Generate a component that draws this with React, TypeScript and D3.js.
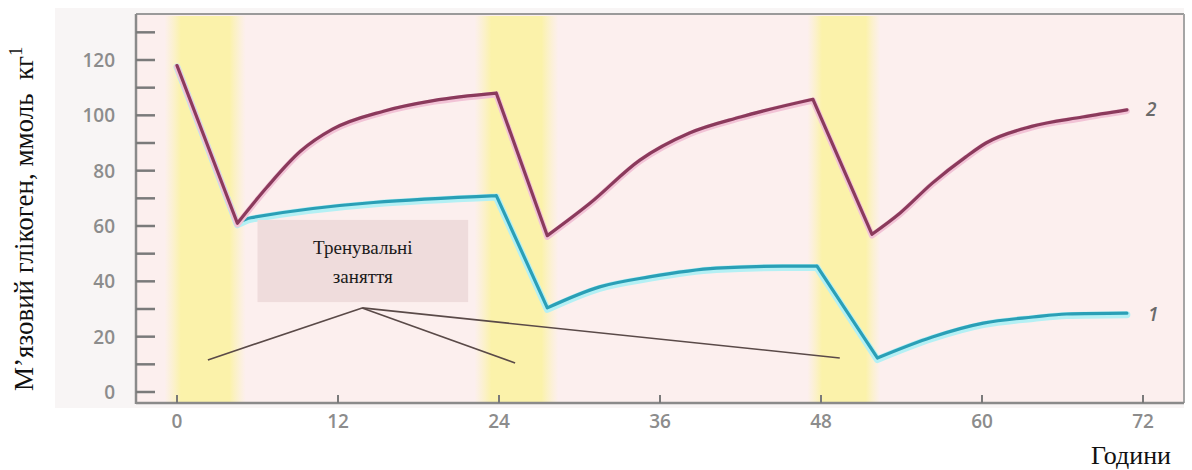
import React from "react";
import * as d3 from "d3";

// ---- data (hours, muscle glycogen mmol/kg) ----
const hours1 = [0, 4.5, 5.5, 23.8, 27.6, 31.5, 35.2, 40.2, 45.2, 47.7, 52.2, 56.3, 60.1, 63.8, 66.3, 70.8];
const glycogen1 = [118, 61, 63, 71, 30.4, 38, 41.6, 44.8, 45.5, 45.5, 12.3, 19.9, 24.9, 27.1, 28.2, 28.5];
const hours2 = [0, 4.5, 6.7, 9.2, 11.6, 15.4, 19.1, 23.8, 27.6, 30.8, 34.5, 38.2, 42, 47.4, 51.8, 53.9, 56.3, 58.8, 60.3, 63.7, 67.5, 70.8];
const glycogen2 = [118, 61, 74, 87, 95, 101.5, 105.3, 108, 56.5, 68.3, 83.8, 93.6, 99.4, 105.8, 57, 64.7, 75.5, 85, 90, 96, 99.4, 102];
const seriesNames = ["1", "2"];
const sessionStart = [-0.4, 22.7, 47.5];
const sessionEnd = [4.6, 27.9, 51.9];
const yTicks = [0, 20, 40, 60, 80, 100, 120];
const yMinorTicks = [0, 10, 20, 30, 40, 50, 60, 70, 80, 90, 100, 110, 120, 130];
const xTicks = [0, 12, 24, 36, 48, 60, 72];
const calloutLines = ["Тренувальні", "заняття"];
const calloutApex = [13.8, 30.4];
const calloutEnds = [[2.3, 11.6], [25.2, 10.5], [49.4, 12.3]];
const calloutBox = [6.0, 21.7, 62.2, 32.5]; // h0, h1, v0, v1
const yLabel = "М’язовий глікоген, ммоль  кг";
const yLabelSup = "1";
const xLabel = "Години";

const W = 1192;
const H = 470;
const x = d3.scaleLinear().domain([0, 72]).range([177, 1143]);
const y = d3.scaleLinear().domain([0, 120]).range([392, 60]);

const frame = { left: 136, right: 1184, top: 14, bottom: 403 };

function piecewisePath(h: number[], v: number[]): string {
  const pts: [number, number][] = h.map((d, i) => [x(d), y(v[i])]);
  const runs: [number, number][][] = [];
  let run: [number, number][] = [pts[0]];
  let dir = 0;
  for (let i = 1; i < pts.length; i++) {
    let s = Math.sign(v[i] - v[i - 1]);
    if (s === 0) s = dir;
    if (dir !== 0 && s !== dir) {
      runs.push(run);
      run = [pts[i - 1]];
    }
    run.push(pts[i]);
    dir = s;
  }
  runs.push(run);
  const line = d3.line().curve(d3.curveMonotoneX);
  return runs.map((r) => line(r) as string).join("");
}

export default function App() {
  const path1 = piecewisePath(hours1, glycogen1);
  const path2 = piecewisePath(hours2, glycogen2);
  const tickFont = "'Open Sans', 'DejaVu Sans', sans-serif";
  const serif = "'Liberation Serif', 'DejaVu Serif', serif";
  return (
    <svg
      width={W}
      height={H}
      style={{ position: "absolute", left: 0, top: 0, background: "#ffffff" }}
    >
      <defs>
        <linearGradient id="band" x1="0" x2="1" y1="0" y2="0">
          <stop offset="0" stopColor="#fbf3b8" stopOpacity="0" />
          <stop offset="0.2" stopColor="#fbf2aa" stopOpacity="1" />
          <stop offset="0.8" stopColor="#fbf2aa" stopOpacity="1" />
          <stop offset="1" stopColor="#fbf3b8" stopOpacity="0" />
        </linearGradient>
      </defs>
      {/* outer light panel */}
      <rect x={55} y={8} width={frame.right - 55} height={frame.bottom + 5 - 8} fill="#f8f5f5" />
      {/* plot background */}
      <rect
        x={frame.left}
        y={frame.top}
        width={frame.right - frame.left}
        height={frame.bottom - frame.top}
        fill="#fcefee"
      />
      {/* training session bands */}
      {sessionStart.map((s, i) => (
        <rect
          key={"b" + i}
          x={x(s) - 7}
          y={frame.top + 2}
          width={x(sessionEnd[i]) - x(s) + 14}
          height={frame.bottom - frame.top - 3}
          fill="url(#band)"
        />
      ))}
      {/* frame */}
      <line x1={frame.left} x2={frame.right} y1={frame.top} y2={frame.top} stroke="#9a9a9a" strokeWidth={2} />
      <line x1={frame.right} x2={frame.right} y1={frame.top} y2={frame.bottom} stroke="#a5a5a5" strokeWidth={2} />
      <line x1={frame.left} x2={frame.left} y1={frame.top} y2={frame.bottom + 1} stroke="#8a8a8a" strokeWidth={2.5} />
      <line x1={frame.left} x2={frame.right} y1={frame.bottom} y2={frame.bottom} stroke="#8a8a8a" strokeWidth={2.5} />
      {/* y ticks */}
      {yMinorTicks.map((t) => (
        <line key={"yt" + t} x1={frame.left} x2={frame.left + 19} y1={y(t)} y2={y(t)} stroke="#7a7a7a" strokeWidth={2.5} />
      ))}
      {yTicks.map((t) => (
        <text
          key={"yl" + t}
          x={115}
          y={y(t) + 7}
          textAnchor="end"
          fontFamily={tickFont}
          fontWeight={600}
          fontSize={19}
          fill="#8c8c8c"
        >
          {t}
        </text>
      ))}
      {/* x ticks */}
      {xTicks.map((t) => (
        <g key={"xt" + t}>
          <line x1={x(t)} x2={x(t)} y1={frame.bottom} y2={frame.bottom - 8} stroke="#7a7a7a" strokeWidth={2} />
          <text
            x={x(t)}
            y={428}
            textAnchor="middle"
            fontFamily={tickFont}
            fontWeight={600}
            fontSize={19}
            fill="#8c8c8c"
          >
            {t}
          </text>
        </g>
      ))}
      {/* series 1 (cyan) */}
      <path d={path1} fill="none" stroke="#b4f0f4" strokeWidth={7} strokeLinejoin="round" strokeLinecap="round" transform="translate(0,1.5)" />
      <path d={path1} fill="none" stroke="#2a9fb6" strokeWidth={3.2} strokeLinejoin="round" strokeLinecap="round" />
      {/* series 2 (purple) */}
      <path d={path2} fill="none" stroke="#f2c3d6" strokeWidth={6} strokeLinejoin="round" strokeLinecap="round" transform="translate(0,1.2)" />
      <path d={path2} fill="none" stroke="#8b3a5c" strokeWidth={3.2} strokeLinejoin="round" strokeLinecap="round" />
      {/* series labels */}
      <text x={x(72) + 3} y={y(glycogen2[glycogen2.length - 1]) + 6} fontFamily={tickFont} fontWeight={600} fontStyle="italic" fontSize={19} fill="#6a6a6a">
        {seriesNames[1]}
      </text>
      <text x={x(72) + 5} y={y(glycogen1[glycogen1.length - 1]) + 8} fontFamily={tickFont} fontWeight={600} fontStyle="italic" fontSize={19} fill="#6a6a6a">
        {seriesNames[0]}
      </text>
      {/* callout pointer lines */}
      {calloutEnds.map((e, i) => (
        <line
          key={"cl" + i}
          x1={x(calloutApex[0])}
          y1={y(calloutApex[1])}
          x2={x(e[0])}
          y2={y(e[1])}
          stroke="#5a4a48"
          strokeWidth={1.6}
        />
      ))}
      {/* callout box */}
      <rect
        x={x(calloutBox[0])}
        y={y(calloutBox[2])}
        width={x(calloutBox[1]) - x(calloutBox[0])}
        height={y(calloutBox[3]) - y(calloutBox[2])}
        fill="#efdcdc"
      />
      {calloutLines.map((t, i) => (
        <text
          key={"ct" + i}
          x={(x(calloutBox[0]) + x(calloutBox[1])) / 2}
          y={y(calloutBox[2]) + 34 + i * 29}
          textAnchor="middle"
          fontFamily={serif}
          fontSize={19}
          fill="#1a1a1a"
        >
          {t}
        </text>
      ))}
      {/* axis titles */}
      <text
        transform={`translate(33, 391) rotate(-90)`}
        fontFamily={serif}
        fontSize={27}
        fill="#111"
        style={{ whiteSpace: "pre" }}
      >
        {yLabel}
        <tspan dy={-11} fontSize={18}>{yLabelSup}</tspan>
      </text>
      <text x={1171} y={464} textAnchor="end" fontFamily={serif} fontSize={26} fill="#111">
        {xLabel}
      </text>
    </svg>
  );
}
